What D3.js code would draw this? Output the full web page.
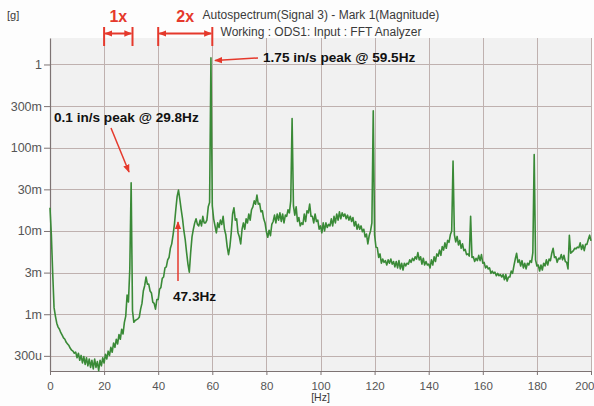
<!DOCTYPE html>
<html><head><meta charset="utf-8">
<script src="https://cdn.jsdelivr.net/npm/d3@7"></script>
<style>
html,body{margin:0;padding:0;background:#fff;}
svg{display:block;font-family:"Liberation Sans",Arial,sans-serif;}
</style></head><body>
<svg id="chart" width="594" height="406"></svg>
<script>
// ---- data ----
const freqStepHz = 0.5;            // spectrum line spacing, 0..200 Hz
const magnitudeMilliG = [          // autospectrum magnitude, milli-g, one value per 0.5 Hz
  19, 9, 3.1, 1.2, 0.95, 0.78, 0.7, 0.66, 0.6, 0.56,
  0.52, 0.5, 0.46, 0.44, 0.42, 0.39, 0.37, 0.36, 0.34, 0.35,
  0.3, 0.34, 0.28, 0.32, 0.26, 0.31, 0.25, 0.3, 0.24, 0.29,
  0.23, 0.28, 0.22, 0.29, 0.23, 0.27, 0.21, 0.28, 0.24, 0.3,
  0.26, 0.33, 0.29, 0.36, 0.32, 0.4, 0.35, 0.45, 0.4, 0.5,
  0.44, 0.57, 0.5, 0.66, 0.58, 0.8, 0.95, 1.7, 1.4, 3.5,
  38, 1.1, 0.8, 0.84, 0.86, 0.88, 0.92, 1.15, 1.35, 1.9,
  2.2, 2.8, 2.3, 2.3, 1.9, 1.8, 1.4, 1.35, 1.15, 1.5,
  1.5, 2.0, 2.1, 2.7, 2.8, 3.6, 3.7, 4.5, 4.8, 6.2,
  7.0, 9.0, 12, 18, 26, 31, 24, 18, 14, 10,
  7.8, 5.5, 4.0, 3.2, 5.5, 8.5, 10.5, 12.5, 14, 12,
  11.5, 13.5, 11.5, 15, 12.5, 12.5, 13.5, 19.5, 22, 1200,
  20, 14, 11.5, 9.5, 12.5, 11, 13.5, 12, 15, 10.5,
  9, 6.5, 5.2, 6.5, 9.5, 16, 19, 13.5, 14, 9.5,
  8.5, 7, 10.5, 12.5, 10.5, 14, 12.5, 16, 13.5, 18,
  19.5, 23, 21, 27, 21, 21.5, 17, 17.5, 14, 12.5,
  9.8, 8.4, 10.2, 8.8, 12, 13, 15.5, 12.5, 16, 13.5,
  16.5, 13, 16, 12.5, 15.5, 15, 18, 16.5, 23, 224,
  20, 15.5, 19.5, 13, 14.5, 11.5, 12.5, 12, 16, 13,
  17.5, 16.5, 21, 15, 15, 12.5, 16, 13, 13.5, 10.5,
  11.5, 9.5, 12.5, 10, 12.5, 11, 12, 11.5, 14, 11.5,
  15, 12.5, 16, 13.5, 17, 14, 16.5, 15, 16, 14,
  15.5, 13.5, 15, 13, 14.5, 11.5, 13, 10.5, 12, 10.5,
  11.5, 9.8, 10.5, 8.5, 9.2, 7, 8.8, 10, 12.5, 277,
  9, 6.4, 6.3, 4.8, 5.3, 4.1, 4.6, 4.2, 4.4, 3.9,
  4.5, 4.1, 4.6, 4.0, 4.3, 3.7, 4.3, 3.6, 4.4, 3.5,
  4.1, 3.4, 4.1, 3.8, 4.1, 4.0, 4.5, 4.2, 4.7, 4.4,
  4.9, 4.6, 5.5, 4.5, 4.9, 4.0, 4.7, 3.9, 4.3, 3.9,
  4.0, 3.6, 4.5, 3.9, 4.9, 4.3, 5.3, 5.0, 5.9, 5.1,
  6.5, 5.9, 7.2, 6.2, 7.7, 7.3, 9.0, 10, 69, 9,
  7.4, 8.6, 6.8, 7.7, 6.2, 7.0, 5.8, 6.0, 5.2, 5.3,
  5.0, 15, 4.8, 4.9, 4.3, 4.7, 4.4, 5.1, 4.4, 5.2,
  4.1, 4.2, 3.6, 3.8, 3.5, 3.6, 3.1, 3.3, 3.1, 3.2,
  2.9, 3.1, 2.9, 3.0, 2.8, 3.0, 2.6, 3.0, 2.5, 2.8,
  2.8, 3.3, 3.1, 3.8, 4.6, 5.4, 4.2, 4.5, 3.8, 4.4,
  3.6, 4.1, 3.5, 4.1, 3.9, 4.4, 4.2, 5.5, 83, 4.5,
  3.8, 3.9, 3.3, 3.9, 3.4, 4.1, 3.8, 4.5, 3.9, 4.6,
  4.4, 5.4, 6.2, 4.8, 4.9, 4.2, 4.7, 4.6, 5.2, 4.5,
  5.1, 4.3, 4.2, 3.5, 8.9, 5.4, 5.6, 5.8, 6.2, 6.1,
  6.4, 6.3, 7.2, 6.0, 6.8, 5.8, 6.9, 6.9, 7.9, 8.9,
  7.6
];
const xDomainHz = [0, 200];
const xTickValues = [0, 20, 40, 60, 80, 100, 120, 140, 160, 180, 200];
const yDomainG = [2.08e-4, 2.08];
const yTickValues = [3.162e-4, 1e-3, 3.162e-3, 1e-2, 3.162e-2, 0.1, 0.3162, 1];
const yTickLabels = ["300u", "1m", "3m", "10m", "30m", "100m", "300m", "1"];
const titleLines = ["Autospectrum(Signal 3) - Mark 1(Magnitude)", "Working : ODS1: Input : FFT Analyzer"];
const yUnitLabel = "[g]";
const xUnitLabel = "[Hz]";
const harmonicLabels = ["1x", "2x"];
const harmonicFromHz = [20, 40];
const harmonicToHz = [30.5, 60];
const peakNotes = ["1.75 in/s peak @ 59.5Hz", "0.1 in/s peak @ 29.8Hz", "47.3Hz"];

// ---- layout ----
const W = 594, H = 406;
const plot = {left: 50, right: 591, top: 38, bottom: 371};
const RED = "#e5392c", GRID = "#bfb1af", AXIS = "#7d7373", TICKTXT = "#555";

const svg = d3.select("#chart");
const x = d3.scaleLinear().domain(xDomainHz).range([plot.left, plot.right]);
const y = d3.scaleLog().domain(yDomainG).range([plot.bottom, plot.top]);

svg.append("rect").attr("width", W).attr("height", H).attr("fill", "#fdfdfd");
svg.append("rect").attr("x", plot.left).attr("y", plot.top)
  .attr("width", plot.right - plot.left).attr("height", plot.bottom - plot.top)
  .attr("fill", "#f1f1f1");

// grid
const grid = svg.append("g").attr("stroke", GRID).attr("stroke-width", 1);
grid.selectAll("line.v").data(xTickValues.slice(1)).join("line")
  .attr("x1", d => Math.round(x(d)) + 0.5).attr("x2", d => Math.round(x(d)) + 0.5)
  .attr("y1", plot.top).attr("y2", plot.bottom);
grid.selectAll("line.h").data(yTickValues).join("line")
  .attr("x1", plot.left).attr("x2", plot.right)
  .attr("y1", d => Math.round(y(d)) + 0.5).attr("y2", d => Math.round(y(d)) + 0.5);

// axes
const xAxis = svg.append("g").attr("transform", `translate(0,${plot.bottom})`)
  .call(d3.axisBottom(x).tickValues(xTickValues).tickFormat(d3.format("d"))
    .tickSize(4).tickSizeOuter(0).tickPadding(7));
const yAxis = svg.append("g").attr("transform", `translate(${plot.left},0)`)
  .call(d3.axisLeft(y).tickValues(yTickValues).tickFormat((d, i) => yTickLabels[i])
    .tickSize(6).tickSizeOuter(0).tickPadding(2));
[xAxis, yAxis].forEach(a => {
  a.select(".domain").attr("stroke", AXIS).attr("stroke-width", 1.2);
  a.selectAll(".tick line").attr("stroke", AXIS);
  a.selectAll(".tick text").attr("fill", TICKTXT)
    .attr("font-family", "Liberation Sans, Arial, sans-serif");
});
xAxis.selectAll(".tick text").attr("font-size", 11.5);
yAxis.selectAll(".tick text").attr("font-size", 12.5);
// keep the last x label inside the picture, as in the reference
xAxis.selectAll(".tick text").filter(d => d === xDomainHz[1])
  .attr("text-anchor", "end").attr("x", 3);

// spectrum line
const line = d3.line()
  .x((d, i) => x(i * freqStepHz))
  .y(d => y(d / 1000));
svg.append("path").datum(magnitudeMilliG)
  .attr("fill", "none").attr("stroke", "#3a8a37").attr("stroke-width", 1.6)
  .attr("stroke-linejoin", "round").attr("d", line);

// titles
svg.append("g").selectAll("text").data(titleLines).join("text")
  .attr("x", 321).attr("y", (d, i) => 19 + i * 16.5)
  .attr("text-anchor", "middle").attr("font-size", 12).attr("fill", "#3a3a3a")
  .text(d => d);
svg.append("text").attr("x", 7).attr("y", 19).attr("font-size", 11)
  .attr("fill", "#3a3a3a").text(yUnitLabel);
svg.append("text").attr("x", x(100)).attr("y", 401).attr("text-anchor", "middle")
  .attr("font-size", 10.5).attr("fill", "#3a3a3a").text(xUnitLabel);

// arrow marker
const defs = svg.append("defs");
defs.append("marker").attr("id", "ah").attr("viewBox", "0 0 10 10")
  .attr("refX", 9).attr("refY", 5).attr("markerUnits", "userSpaceOnUse")
  .attr("markerWidth", 8).attr("markerHeight", 8).attr("orient", "auto-start-reverse")
  .append("path").attr("d", "M0,1 L10,5 L0,9 z").attr("fill", RED);

// harmonic brackets
harmonicLabels.forEach((lab, i) => {
  const x0 = x(harmonicFromHz[i]), x1 = x(harmonicToHz[i]);
  const g = svg.append("g");
  [x0, x1].forEach(xx => g.append("line").attr("x1", xx).attr("x2", xx)
    .attr("y1", 27).attr("y2", 46).attr("stroke", RED).attr("stroke-width", 2));
  g.append("line").attr("x1", x0 + 1).attr("x2", x1 - 1).attr("y1", 33.5).attr("y2", 33.5)
    .attr("stroke", RED).attr("stroke-width", 2)
    .attr("marker-start", "url(#ah)").attr("marker-end", "url(#ah)");
  g.append("text").attr("x", (x0 + x1) / 2).attr("y", 22).attr("text-anchor", "middle")
    .attr("font-size", 16).attr("font-weight", "bold").attr("fill", RED).text(lab);
});

// peak annotations
function arrow(x1, y1, x2, y2) {
  svg.append("line").attr("x1", x1).attr("y1", y1).attr("x2", x2).attr("y2", y2)
    .attr("stroke", RED).attr("stroke-width", 1.5).attr("marker-end", "url(#ah)");
}
function note(txt, xx, yy, anchor) {
  svg.append("text").attr("x", xx).attr("y", yy).attr("text-anchor", anchor || "start")
    .attr("font-size", 13.6).attr("font-weight", "bold").attr("fill", "#111").text(txt);
}
note(peakNotes[0], 263, 62);
arrow(258, 58, x(59.5) + 4, 60.5);
note(peakNotes[1], 54, 122);
arrow(111, 128, 129, 172);
note(peakNotes[2], 173, 301);
arrow(178, 281, 178, 222);
</script>
</body></html>
